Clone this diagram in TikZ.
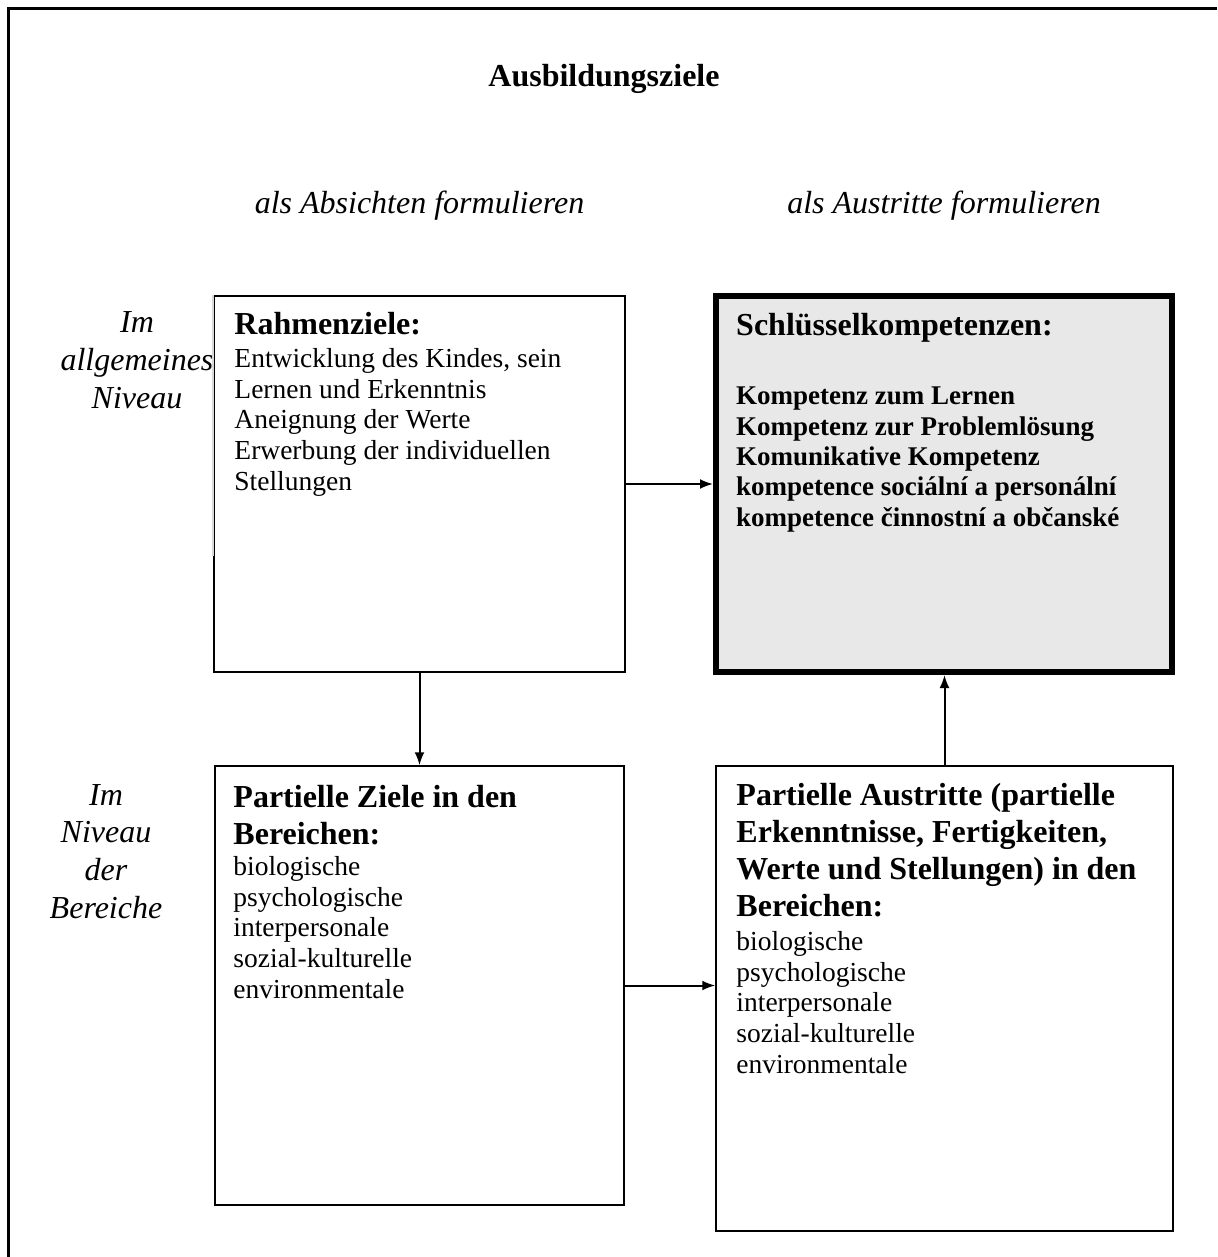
\documentclass[tikz,border=0pt]{standalone}
\usepackage{fontspec}
\setmainfont{Liberation Serif}
\usetikzlibrary{arrows.meta,positioning}

\definecolor{keyfill}{HTML}{E8E8E8}
\tikzset{
  box/.style={draw, rectangle, line width=1.5pt, inner sep=0pt},
  keybox/.style={box, line width=6pt, fill=keyfill},
  head/.style={anchor=base west, inner sep=0pt, align=left,
    font=\bfseries\fontsize{32}{37}\selectfont},
  body/.style={anchor=base west, inner sep=0pt, align=left,
    font=\fontsize{27.5}{30.7}\selectfont},
  keylist/.style={anchor=base west, inner sep=0pt, align=left,
    font=\bfseries\fontsize{27}{30.3}\selectfont},
  level/.style={anchor=base, inner sep=0pt, align=center,
    font=\itshape\fontsize{32}{37.6}\selectfont},
  link/.style={-{Latex[length=13pt,width=10pt]}, line width=2pt}
}

\begin{document}
\begin{tikzpicture}[x=1pt,y=-1pt]
\useasboundingbox (0,0) rectangle (1217,1257);

% frame
\draw[line width=3pt] (8,1257) |- (1217,9);

% headings (multi-line nodes sit on their last baseline)
\node[anchor=base, font=\bfseries\fontsize{32}{37}\selectfont] (title) at (604,87) {Ausbildungsziele};
\node[level] (colA) at (419.5,214) {als Absichten formulieren};
\node[level] (colB) at (944,214) {als Austritte formulieren};
\node[level] (rowA) at (137,408) {Im\\allgemeines\\Niveau};
\node[level] (rowB) at (106,918) {Im\\Niveau\\der\\Bereiche};

% boxes
\node[box, minimum width=411pt, minimum height=376pt] (rz) at (419.5,484) {};
\draw[white!85!black, line width=2pt] (rz.north west) -- ([yshift=-261pt]rz.north west);
\node[keybox, minimum width=456pt, minimum height=376pt] (sk) at (944,484) {};
\node[box, minimum width=409pt, minimum height=439pt] (pz) at (419.5,985.5) {};
\node[box, minimum width=457pt, minimum height=465pt] (pa) at (944.5,998.5) {};

% texts in the boxes
\node[head] (rzhead) at ([shift={(21,39)}]rz.north west) {Rahmenziele:};
\node[body] (rzbody) at ([shift={(21,195)}]rz.north west)
  {Entwicklung des Kindes, sein\\Lernen und Erkenntnis\\Aneignung der Werte\\Erwerbung der individuellen\\Stellungen};

\node[head] (skhead) at ([shift={(23,42)}]sk.north west) {Schlüsselkompetenzen:};
\node[keylist] (skbody) at ([shift={(23,233)}]sk.north west)
  {Kompetenz zum Lernen\\Kompetenz zur Problemlösung\\Komunikative Kompetenz\\kompetence sociální a personální\\kompetence činnostní a občanské};

\node[head] (pzhead) at ([shift={(19,79)}]pz.north west) {Partielle Ziele in den\\Bereichen:};
\node[body] (pzbody) at ([shift={(19,233)}]pz.north west)
  {biologische\\psychologische\\interpersonale\\sozial-kulturelle\\environmentale};

\node[head] (pahead) at ([shift={(21,151)}]pa.north west)
  {Partielle Austritte (partielle\\Erkenntnisse, Fertigkeiten,\\Werte und Stellungen) in den\\Bereichen:};
\node[body] (pabody) at ([shift={(21,308)}]pa.north west)
  {biologische\\psychologische\\interpersonale\\sozial-kulturelle\\environmentale};

% arrows
\draw[link] (rz) -- (sk);
\draw[link] (rz) -- (pz);
\draw[link] (pz.east) -- (pz.east -| pa.west);
\draw[link] (pa.north) -- (pa.north |- sk.south);
\end{tikzpicture}
\end{document}
